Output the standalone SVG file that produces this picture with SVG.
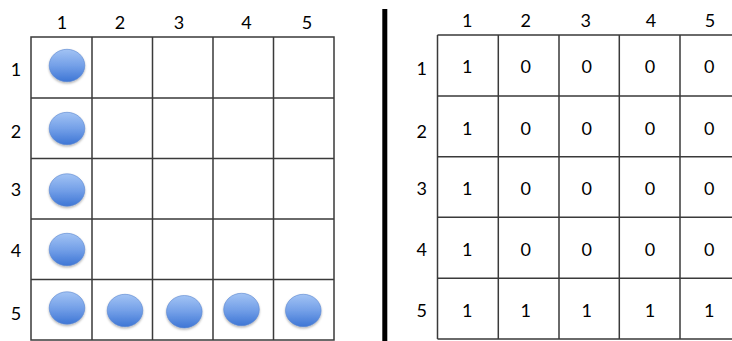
<svg xmlns="http://www.w3.org/2000/svg" width="732" height="341" viewBox="0 0 732 341">
<defs>
<linearGradient id="ball" x1="0" y1="0" x2="0" y2="1">
<stop offset="0" stop-color="#a2c3f4"/>
<stop offset="0.5" stop-color="#74a0e8"/>
<stop offset="1" stop-color="#3e76d5"/>
</linearGradient>
<filter id="sh" x="-30%" y="-30%" width="160%" height="170%">
<feDropShadow dx="0" dy="1.5" stdDeviation="1.2" flood-color="#000" flood-opacity="0.3"/>
</filter>
<ellipse id="dot" cx="0" cy="0" rx="17.8" ry="16.2" fill="url(#ball)" stroke="#5a86d0" stroke-width="0.6" filter="url(#sh)"/>
</defs>
<style>
.g{fill:none;stroke:#3a3a3a;stroke-width:1.5}
text{font-family:Lato,"Open Sans","Liberation Sans",sans-serif;font-size:18px;fill:#000;text-anchor:middle}
</style>
<rect width="732" height="341" fill="#fff"/>
<g id="left-grid" class="g">
<rect x="31" y="37" width="303" height="303"/>
<path d="M92 37V340M152.5 37V340M213 37V340M273.5 37V340M31 98H334M31 158.5H334M31 219H334M31 279.5H334"/>
</g>
<g id="left-col-labels">
<text x="62" y="29">1</text><text x="120" y="29">2</text><text x="179" y="29">3</text><text x="246.5" y="29">4</text><text x="307" y="29">5</text>
</g>
<g id="left-row-labels">
<text x="16" y="76">1</text><text x="16" y="138">2</text><text x="16" y="196">3</text><text x="16" y="257">4</text><text x="16" y="320">5</text>
</g>
<g id="balls">
<g id="ball-1-1"><use href="#dot" x="67" y="65.5"/></g>
<g id="ball-2-1"><use href="#dot" x="67" y="128.5"/></g>
<g id="ball-3-1"><use href="#dot" x="67" y="190"/></g>
<g id="ball-4-1"><use href="#dot" x="67" y="249.5"/></g>
<g id="ball-5-1"><use href="#dot" x="67" y="308"/></g>
<g id="ball-5-2"><use href="#dot" x="125" y="310.5"/></g>
<g id="ball-5-3"><use href="#dot" x="184.3" y="311.7"/></g>
<g id="ball-5-4"><use href="#dot" x="241.5" y="309.5"/></g>
<g id="ball-5-5"><use href="#dot" x="303.3" y="310.5"/></g>
</g>
<rect id="divider" x="382.3" y="9" width="5" height="332" fill="#000"/>
<g id="right-grid" class="g">
<path d="M437.5 35H740M437.5 96H740M437.5 156.7H740M437.5 217.3H740M437.5 278.3H740M437.5 339H740M437.5 35V339M498.3 35V339M559 35V339M619.3 35V339M680 35V339"/>
</g>
<g id="right-col-labels">
<text x="467.3" y="27">1</text><text x="525.7" y="27">2</text><text x="585.7" y="27">3</text><text x="651" y="27">4</text><text x="710" y="27">5</text>
</g>
<g id="right-row-labels">
<text x="421.7" y="75">1</text><text x="421.7" y="138">2</text><text x="421.7" y="195">3</text><text x="421.7" y="256">4</text><text x="421.7" y="317">5</text>
</g>
<g id="right-values">
<text x="467.3" y="73">1</text><text x="525.7" y="73">0</text><text x="586.7" y="73">0</text><text x="650" y="73">0</text><text x="709.3" y="73">0</text>
<text x="467.3" y="135">1</text><text x="525.7" y="135">0</text><text x="586.7" y="135">0</text><text x="650" y="135">0</text><text x="709.3" y="135">0</text>
<text x="467.3" y="195">1</text><text x="525.7" y="195">0</text><text x="586.7" y="195">0</text><text x="650" y="195">0</text><text x="709.3" y="195">0</text>
<text x="467.3" y="256">1</text><text x="525.7" y="256">0</text><text x="586.7" y="256">0</text><text x="650" y="256">0</text><text x="709.3" y="256">0</text>
<text x="467.3" y="317">1</text><text x="525.7" y="317">1</text><text x="586.7" y="317">1</text><text x="650" y="317">1</text><text x="709.3" y="317">1</text>
</g>
</svg>
